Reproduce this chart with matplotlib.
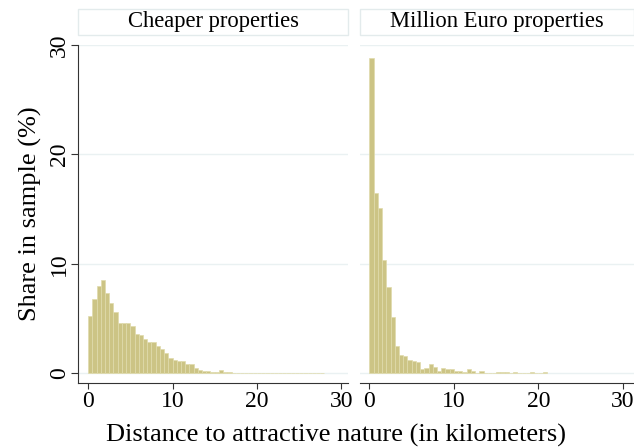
import numpy as np
import matplotlib
matplotlib.use("Agg")
import matplotlib.pyplot as plt
from matplotlib.patches import Rectangle

plt.rcParams['font.family'] = ['Liberation Serif', 'DejaVu Serif']

# share in sample (%) per 0.5 km distance bin
bin_width = 0.5
cheaper = [5.25, 6.75, 8.0, 8.5, 7.35, 6.4, 5.55, 4.6, 4.6, 4.6,
           4.3, 3.6, 3.5, 3.15, 2.85, 2.85, 2.5, 2.2, 1.8, 1.4,
           1.23, 1.13, 1.13, 0.86, 0.8, 0.5, 0.3, 0.21, 0.21, 0.12,
           0.12, 0.25, 0.12, 0.12] + [0.06] * 22
million = [28.8, 16.5, 15.1, 10.3, 7.85, 5.15, 2.45, 1.63, 1.53, 1.25,
           1.12, 1.05, 0.4, 0.5, 0.86, 0.6, 0.21, 0.5, 0.4, 0.4,
           0.21, 0.21, 0.12, 0.4, 0.21, 0.05, 0.21, 0.06, 0, 0,
           0.1, 0.1, 0.1, 0, 0.12, 0, 0, 0, 0.12, 0,
           0, 0.12]
panel_titles = ['Cheaper properties', 'Million Euro properties']
xticks = [0, 10, 20, 30]
yticks = [0, 10, 20, 30]

bar_fc = '#ccc485'
bar_ec = '#e0dbac'
grid_c = '#eaf1f2'

fig = plt.figure(figsize=(6.34, 4.48), dpi=100)
axes = [fig.add_axes([0.123, 0.145, 0.426, 0.755]),
        fig.add_axes([0.568, 0.145, 0.432, 0.755])]
xlims = [(-1.2, 30.8), (-1.1, 31.3)]

for ax, vals, title, xl in zip(axes, [cheaper, million], panel_titles, xlims):
    left = np.arange(len(vals)) * bin_width
    ax.bar(left, vals, width=bin_width, align='edge', color=bar_fc,
           edgecolor=bar_ec, linewidth=0.5, zorder=2)
    ax.set_xlim(*xl)
    ax.set_ylim(-0.9, 30)
    ax.set_yticks(yticks)
    ax.set_xticks(xticks)
    for y in yticks:
        ax.axhline(y, color=grid_c, lw=1.0, zorder=1)
    for s in ['top', 'right']:
        ax.spines[s].set_visible(False)
    ax.spines['bottom'].set_color('#333333')
    ax.spines['left'].set_color('#333333')
    ax.tick_params(axis='x', labelsize=17, length=4, color='#333333', pad=2)
    ax.tick_params(axis='y', labelsize=17, length=5, color='#333333', pad=1)
    # title box above the panel
    ax.add_patch(Rectangle((0, 1.029), 1, 0.076, transform=ax.transAxes,
                           facecolor='white', edgecolor='#e3ebec', lw=1.0,
                           clip_on=False))
    ax.text(0.5, 1.068, title, transform=ax.transAxes, ha='center',
            va='center', fontsize=16.3)

for lab in axes[0].get_yticklabels():
    lab.set_rotation(90)
    lab.set_va('center')
axes[1].spines['left'].set_visible(False)
axes[1].tick_params(axis='y', left=False, labelleft=False)

axes[0].set_ylabel('Share in sample (%)', fontsize=19, labelpad=5)
fig.text(0.53, 0.029, 'Distance to attractive nature (in kilometers)',
         ha='center', va='center', fontsize=19)

fig.savefig('out.png', dpi=100)
